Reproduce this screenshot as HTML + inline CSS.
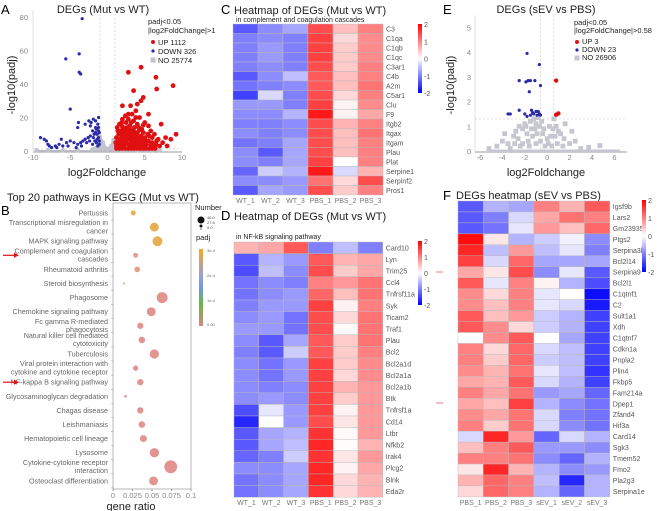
<!DOCTYPE html>
<html><head><meta charset="utf-8"><style>
body{margin:0;background:#fff;}
svg{display:block;font-family:"Liberation Sans",sans-serif;}
</style></head><body>
<svg id="fig" width="669" height="511" viewBox="0 0 669 511" xmlns="http://www.w3.org/2000/svg"></svg>
<script>
// ---------- DATA ----------
const aBlue=[[-3.4,79],[-3.8,58],[-5.6,55],[-3.8,47],[-3.6,46],[-5.0,25],[-3.9,17],[-4.0,14],[-3.0,16],[-2.5,18],[-2.2,17],[-1.9,19],[-1.6,18],[-1.3,16],[-1.2,14],[-1.5,13],[-2.0,12],[-1.8,10],[-1.4,10],[-1.2,8],[-2.3,9],[-2.6,8],[-3.0,7],[-3.3,6],[-3.6,5],[-4.0,4],[-4.5,5],[-5.0,6],[-5.5,5],[-6.0,3],[-6.5,4],[-7.0,3],[-7.5,2],[-8.0,4],[-8.5,7],[-9.0,8],[-8.2,6],[-7.8,3],[-6.8,2],[-1.1,4],[-1.5,5],[-2.0,4],[-2.8,5],[-1.7,6],[-1.3,3],[-4.2,2],[-5.3,3],[-6.2,7],[-3.5,3],[-2.4,6],[-1.1,11],[-1.6,14],[-2.3,15],[-1.2,20],[-1.1,6],[-1.4,7],[-1.2,12],[-1.9,8],[-1.6,11]];
const aRed=[[4.5,50],[2.8,47],[6.5,44],[8.8,39],[6.6,37],[3.5,36],[4.8,32],[4.5,30],[3.1,27],[2.0,27],[4.0,28],[3.8,24],[2.8,22],[5.5,22],[4.3,20],[7.2,16],[9.2,10],[8.5,7],[7.8,8],[6.8,7],[6.3,10],[5.8,12],[5.5,15],[5.0,17],[4.6,13],[4.0,16],[3.5,18],[3.0,15],[2.5,17],[2.2,13],[1.8,12],[1.5,10],[1.2,8],[1.1,5],[1.5,4],[2.0,6],[2.5,9],[3.0,10],[3.5,12],[4.0,11],[4.5,9],[5.0,8],[5.5,6],[6.0,5],[6.5,4],[7.0,3],[3.2,6],[2.8,4],[2.2,3],[1.7,2],[3.8,5],[4.3,4],[4.8,3],[5.2,4],[3.0,13],[2.0,19],[1.3,14],[6.0,2],[4.0,7],[5.6,9],[2.6,11],[3.3,8],[4.2,14],[1.6,16],[2.4,21],[3.6,3],[1.2,3],[2.2,8],[2.9,7],[3.7,9],[4.4,6],[1.4,6],[1.9,9],[2.6,14],
[1.2,1.5],[1.6,1.5],[2.0,1.5],[2.4,1.5],[2.8,1.5],[3.2,1.5],[3.6,1.5],[4.0,1.5],[4.4,1.5],[4.8,1.5],[5.2,1.5],[5.6,1.5],[6.0,1.5],[6.4,1.5],
[1.3,4],[1.8,4],[2.4,4.5],[3.0,3],[3.4,4.5],[4.0,3],[4.6,4.5],[5.0,5.5],[5.8,3.5],[6.3,2.5],
[1.6,7],[2.1,7.5],[2.6,6.5],[3.1,8.5],[3.6,7],[4.1,8.5],[4.6,7.5],[5.1,6.5],[5.4,10],[4.8,11],
[1.7,10.5],[2.2,11],[2.8,11.5],[3.3,10.5],[3.8,10],[4.3,12.5],[2.5,12.5],[3.6,14],[2.0,14.5],[3.2,17],[2.8,19],[3.8,20],[4.8,15.5],[6.0,8],[6.6,6],[7.4,5],[8.0,3],[1.4,12],[1.9,17],[3.3,22]];
const aGrey=[[-1.2,9],[-1,7],[-0.8,5],[-0.5,3],[-0.2,1.5],[0,0.8],[0.2,1.5],[0.5,3],[0.8,5],[1,6],[-1,3],[-0.6,1.5],[0.6,1.5],[1,2.5],[-1.5,2],[1.5,1.5],[-2,1],[2,1],[-4,0.5],[-6,0.5],[-8,0.5],[-9.5,0.5],[4,0.5],[6,0.5],[7,0.5],[-1.1,5],[1.1,4],[-0.9,2],[-0.7,4],[0.7,4],[-1.3,6],[0.9,3],[-1.0,8.5],[-0.9,6.5],[-0.6,5],[0.4,2],[0.8,6.5],[0.9,1.5],[-1.1,1.5],[-1.3,3.5],[-0.4,1.8],[1.0,5]];
const aXTicks=[-10,-5,0,5,10];
const aYTicks=[0,20,40,60,80];

const eBlue=[[-1.8,3.95],[-0.7,3.5],[-2.5,2.85],[-1.9,2.8],[-1.7,2.85],[-1.5,2.85],[-1.1,2.85],[-0.6,2.65],[-1.6,2.4],[-2.5,1.65],[-3.3,1.5],[-3.5,1.5],[-1.4,1.65],[-1.0,1.6],[-0.8,1.6],[-1.5,1.45],[-1.8,1.4],[-1.3,1.55],[-0.9,1.45],[-0.7,1.5],[-1.2,1.5],[-0.6,1.45],[-2.0,1.5]];
const eRed=[[0.8,2.85],[0.8,1.47],[1.0,1.52]];
const eGrey=[[-5.2,0.1],[-4,0.4],[-3.5,0.3],[-3,0.6],[-2.8,0.8],[-2.5,1.0],[-2.2,0.9],[-2,1.1],[-1.8,0.7],[-1.5,1.2],[-1.2,1.3],[-1,1.1],[-0.8,1.35],[-0.5,1.2],[-0.3,0.9],[0,0.5],[0.3,0.6],[0.5,0.9],[0.6,1.3],[0.8,1.0],[1,0.8],[1.2,0.7],[1.5,0.5],[2,0.3],[2.5,0.4],[3.7,0.15],[4.7,0.22],[3,0.1],[-4.5,0.2],[-3.8,0.7],[-2.6,0.5],[-1.7,0.4],[-1.4,0.9],[-0.9,0.7],[-0.6,0.4],[0.4,0.2],[0.9,0.3],[1.4,0.2],[-2.2,0.3],[-0.2,0.2],[2.2,0.8],[1.6,1.1],[-1.1,0.9],[-0.4,0.7],[0.2,1.0],[-2.9,0.3],[-1.9,1.0],[-1.3,0.6],[-0.7,1.0],[-1.6,0.2],[-1.0,0.3],[0.1,0.3],[0.7,0.6],[-2.4,0.2],[-3.3,0.1]];
const eXTicks=[-6,-4,-2,0,2,4,6];
const eYTicks=[0,1,2,3,4,5];

const bPathways=["Pertussis","Transcriptional misregulation in|cancer","MAPK signaling pathway","Complement and coagulation|cascades","Rheumatoid arthritis","Steroid biosynthesis","Phagosome","Chemokine signaling pathway","Fc gamma R-mediated|phagocytosis","Natural killer cell mediated|cytotoxicity","Tuberculosis","Viral protein interaction with|cytokine and cytokine receptor","NF-kappa B signaling pathway","Glycosaminoglycan degradation","Chagas disease","Leishmaniasis","Hematopoietic cell lineage","Lysosome","Cytokine-cytokine receptor|interaction","Osteoclast differentiation"];
const bRatio=[0.026,0.053,0.057,0.029,0.031,0.014,0.063,0.049,0.035,0.037,0.053,0.029,0.035,0.016,0.035,0.037,0.039,0.053,0.074,0.052];
const bCount=[12,24,27,12,14,3,30,24,16,17,25,13,16,5,16,17,18,25,36,24];
const bPadj=[3e-4,2.7e-4,2.7e-4,0.1e-4,0.1e-4,0.1e-4,0,0,0,0,0,0,0,0,0,0,0,0,0,0];
const bXTicks=[0,0.025,0.05,0.075,0.1];
const bXTickLabels=["0","0.025","0.05","0.075","0.1"];

const hmCols=["WT_1","WT_2","WT_3","PBS_1","PBS_2","PBS_3"];
const cGenes=["C3","C1qa","C1qb","C1qc","C3ar1","C4b","A2m","C5ar1","Clu","F9","Itgb2","Itgax","Itgam","Plau","Plat","Serpine1","Serpinf2","Pros1"];
const cVals=[[-1.3,-0.9,-0.7,1.4,0.5,1.0],[-1.0,-0.9,-1.0,1.5,0.3,0.9],[-1.0,-0.8,-1.0,1.5,0.4,0.9],[-1.0,-0.8,-1.0,1.5,0.4,0.9],[-1.0,-0.9,-1.0,1.4,0.4,1.0],[-1.3,-0.9,-0.5,1.3,0.5,1.0],[-1.1,-1.0,-0.9,1.3,0.5,1.1],[-1.5,-0.3,-1.0,1.4,0.3,1.0],[-0.8,-0.8,-1.0,1.5,0.1,0.9],[-0.9,-0.9,-0.6,1.8,0.1,0.7],[-1.0,-1.0,-0.9,1.4,0.6,1.0],[-0.9,-1.0,-0.9,1.4,0.5,1.1],[-1.1,-1.0,-0.7,1.4,0.5,1.0],[-0.9,-1.3,-0.7,1.4,0.5,1.0],[-0.9,-1.0,-0.7,1.5,0.0,1.0],[-1.2,-0.4,-0.6,1.8,-0.3,0.6],[-0.9,-0.9,-0.8,1.1,0.3,1.4],[-1.3,-0.7,-0.8,1.4,0.4,1.0]];
const dGenes=["Card10","Lyn","Trim25","Ccl4","Tnfrsf11a","Syk","Ticam2","Traf1","Plau","Bcl2","Bcl2a1d","Bcl2a1a","Bcl2a1b","Btk","Tnfrsf1a","Cd14","Ltbr","Nfkb2","Irak4","Plcg2","Blnk","Eda2r"];
const dVals=[[0.6,0.7,1.3,-1.0,-0.5,-1.0],[-1.3,-0.6,-0.8,1.3,0.6,0.7],[-1.4,-0.5,-0.9,1.4,0.4,0.7],[-1.1,-0.9,-1.0,1.0,0.8,1.1],[-1.1,-0.9,-0.8,1.2,0.5,1.1],[-1.0,-0.8,-0.8,1.5,0.1,1.0],[-0.9,-0.8,-1.1,1.4,0.3,1.1],[-0.8,-0.8,-1.1,1.4,0.05,1.1],[-0.9,-1.3,-0.7,1.3,0.4,1.1],[-1.0,-1.3,-0.4,1.3,0.4,1.0],[-0.9,-1.1,-0.8,1.5,0.4,0.9],[-0.9,-1.1,-0.8,1.5,0.3,0.9],[-0.9,-1.0,-0.9,1.5,0.6,0.8],[-0.9,-0.8,-0.9,1.5,0.4,0.8],[-1.4,-0.2,-0.8,1.5,0.1,0.8],[-1.7,0.0,-0.8,1.4,0.2,0.8],[-1.3,-0.7,-0.6,1.6,0.05,0.8],[-1.3,-0.7,-0.5,1.7,0.02,0.6],[-1.2,-1.0,-0.4,1.6,0.2,0.8],[-0.9,-0.9,-0.7,1.7,0.1,0.7],[-1.1,-0.9,-0.7,1.7,0.3,0.6],[-1.1,-0.9,-0.7,1.6,0.3,0.6]];
const fCols=["PBS_1","PBS_2","PBS_3","sEV_1","sEV_2","sEV_3"];
const fGenes=["Igsf9b","Lars2","Gm23935","Ptgs2","Serpina3h","Bcl2l14","Serpina9","Bcl2l1","C1qtnf1","C2","Sult1a1","Xdh","C1qtnf7","Cdkn1a","Pnpla2","Plin4","Fkbp5","Fam214a","Dpep1","Zfand4","Hif3a","Card14","Sgk3","Tmem52","Fmo2","Pla2g3","Serpina1e"];
const fVals=[[-1.3,-0.6,-0.7,1.0,0.6,1.3],[-1.3,-1.0,-0.3,0.7,1.1,1.0],[-1.3,-1.1,-0.2,0.8,0.5,1.2],[1.9,0.2,-0.6,-0.4,-0.1,-0.9],[1.7,-0.5,0.8,-0.5,-0.2,-1.0],[1.5,-0.3,1.2,-0.7,-0.7,-0.7],[0.7,0.2,1.4,-0.9,-0.2,-1.3],[1.3,-0.2,1.0,0.1,-0.6,-1.4],[0.9,0.3,1.0,-0.2,0.0,-1.9],[0.9,0.5,1.0,-0.2,-0.3,-1.8],[1.3,0.5,0.8,-0.4,-0.6,-1.5],[1.3,0.9,0.3,-0.4,-0.6,-1.5],[0.0,0.9,1.3,0.0,-0.7,-1.5],[1.0,0.3,1.2,-0.3,-0.5,-1.5],[1.0,0.4,1.2,-0.4,-0.5,-1.5],[0.9,0.6,1.1,-0.2,-0.5,-1.6],[0.7,0.6,1.3,-0.3,-0.6,-1.5],[1.0,0.7,1.1,-0.8,-0.7,-1.2],[0.7,0.5,1.5,-0.6,-0.9,-1.1],[0.9,0.7,1.1,-0.3,-1.0,-1.1],[1.0,0.4,1.1,-0.3,-0.9,-1.1],[-0.3,1.7,0.8,-1.2,-0.3,-0.6],[0.5,1.0,1.3,-0.8,-0.8,-0.9],[1.0,1.0,1.1,-0.9,-1.2,-0.6],[0.2,1.7,0.6,-0.6,-0.9,-0.8],[0.6,1.2,1.0,-0.5,-1.7,-0.6],[0.3,1.2,1.0,-0.6,-1.2,-0.6]];
const cbTicks=[2,1,0,-1,-2];

// ---------- HELPERS ----------
const NS="http://www.w3.org/2000/svg";
const svg=document.getElementById('fig');
function mk(tag,attrs,parent){const e=document.createElementNS(NS,tag);for(const k in attrs)e.setAttribute(k,attrs[k]);(parent||svg).appendChild(e);return e;}
function txt(s,x,y,size,fill,anchor,name,extra){const e=mk('text',Object.assign({x:x,y:y,'font-size':size,fill:fill,'text-anchor':anchor||'start'},extra||{}));e.textContent=s;


return e;}
function hmColor(v){v=Math.max(-2,Math.min(2,v));if(v>=0){const t=v/2;const g=Math.round(255*(1-t));return `rgb(255,${g},${g})`;}const t=-v/2;const g=Math.round(255*(1-t));return `rgb(${g},${g},255)`;}
function dot(x,y,r,fill,name){const c=mk('circle',{cx:x,cy:y,r:r,fill:fill});


return c;}

// ---------- PANEL A ----------
const xA=v=>33+(v+10)/20*149, yA=v=>151-v/80*134;
txt("A",1,14,13,"#000","start","panel-a-label");
txt("DEGs (Mut vs WT)",103,13,11,"#222","middle","panel-a-title");
mk('line',{x1:xA(-10),y1:yA(0)+1,x2:xA(10),y2:yA(0)+1,stroke:"#999","stroke-width":1});
mk('rect',{x:xA(-9.5),y:yA(0)-1,width:xA(7)-xA(-9.5),height:2,fill:"#b8b8c4"});
mk('line',{x1:xA(-10),y1:yA(84),x2:xA(-10),y2:yA(0),stroke:"#ccc","stroke-width":0.6});
[-1,1].forEach(v=>mk('line',{x1:xA(v),y1:yA(84),x2:xA(v),y2:yA(0),stroke:"#ccc","stroke-width":0.7,"stroke-dasharray":"2,2"}));
mk('line',{x1:xA(-10),y1:yA(1.3),x2:xA(10),y2:yA(1.3),stroke:"#ccc","stroke-width":0.6,"stroke-dasharray":"2,2"});
aXTicks.forEach(v=>txt(String(v),xA(v),160,7.5,"#888","middle","a-x-tick"));
aYTicks.forEach(v=>txt(String(v),28,yA(v)+3,7.5,"#888","end","a-y-tick"));
txt("log2Foldchange",107,176,11,"#222","middle","a-x-axis-title");
txt("-log10(padj)",15,85,11,"#222","middle","a-y-axis-title",{transform:"rotate(-90 15 85)"});
aGrey.forEach(p=>dot(xA(p[0]),yA(p[1]),2.2,"#c2c2cc","a-point-ns"));
aBlue.forEach(p=>dot(xA(p[0]),yA(p[1]),1.6,"#2a2aa8","a-point-down"));
aRed.forEach(p=>dot(xA(p[0]),yA(p[1]),2.4,"#e01010","a-point-up"));
txt("padj<0.05",148,24,7.5,"#222","start","a-legend-title");
txt("|log2FoldChange|>1",148,33,7.5,"#222","start","a-legend-subtitle");
dot(153,42,2,"#e01010","a-legend-up-marker");txt("UP 1112",158,45,7.5,"#222","start","a-legend-up");
dot(153,51,1.6,"#2a2aa8","a-legend-down-marker");txt("DOWN 326",158,54,7.5,"#222","start","a-legend-down");
mk('rect',{x:150.5,y:57.5,width:5,height:5,fill:"#c2c2cc"});txt("NO 25774",158,63,7.5,"#222","start","a-legend-no");

// ---------- PANEL B ----------
const xB=v=>113+v*780, yB=i=>213+i*14.1;
txt("Top 20 pathways in KEGG (Mut vs WT)",103,201,11,"#222","middle","panel-b-title");
txt("B",1,215,13,"#000","start","panel-b-label");
mk('rect',{x:113,y:203,width:78,height:286,fill:"none",stroke:"#999","stroke-width":0.7});
bXTicks.forEach((v,i)=>{mk('line',{x1:xB(v),y1:489,x2:xB(v),y2:491,stroke:"#999"});txt(bXTickLabels[i],xB(v),498,7.5,"#888","middle","b-x-tick");});
txt("gene ratio",131,510,11,"#222","middle","b-x-axis-title");
bPathways.forEach((p,i)=>{const parts=p.split("|");const y=yB(i);
 mk('line',{x1:111,y1:y+7,x2:113,y2:y+7,stroke:"#999","stroke-width":0.5});
 if(parts.length==1)txt(parts[0],108,y+2.5,7.2,"#666","end","b-pathway-label");
 else{txt(parts[0],108,y-2,7.2,"#666","end","b-pathway-label");txt(parts[1],108,y+6.2,7.2,"#666","end","b-pathway-label");}
 const pa=bPadj[i];const col=pa>2.5e-4?"#e8b052":(pa>0?"#e2a08a":"#e29590");
 dot(xB(bRatio[i]),y,0.5+bCount[i]*0.165,col,"b-bubble");
});
[3,12].forEach(i=>{const y=yB(i);const l=mk('line',{x1:3,y1:y,x2:16,y2:y,stroke:"#e01010","stroke-width":1.2});


mk('polygon',{points:`${19},${y} ${14},${y-2.5} ${14},${y+2.5}`,fill:"#e01010"});});
txt("Number",195,210,7.5,"#222","start","b-size-legend-title");
dot(201,220,3.5,"#111","b-size-legend-dot");dot(201,226,1.5,"#111","b-size-legend-dot");dot(201,229,0.6,"#111","b-size-legend-dot");
txt("46.0",207,219,4,"#444","start","b-size-legend-label");txt("27.5",207,224,4,"#444","start","b-size-legend-label");txt("9.0",207,229,4,"#444","start","b-size-legend-label");
txt("padj",196,240,7.5,"#222","start","b-color-legend-title");
const grad=mk('linearGradient',{id:"gB",x1:0,y1:0,x2:0,y2:1},mk('defs',{}));
[["0","#f5a623"],["0.35","#9b9fd6"],["0.5","#6f9ae6"],["0.7","#66b84a"],["1","#d9837f"]].forEach(s=>mk('stop',{offset:s[0],'stop-color':s[1]},grad));
mk('rect',{x:199,y:249,width:4,height:77,fill:"url(#gB)"});
txt("3e-4",207,252,4,"#666","start","b-color-tick");txt("2e-4",207,277,4,"#666","start","b-color-tick");txt("1e-4",207,302,4,"#666","start","b-color-tick");txt("0.00",207,326,4,"#666","start","b-color-tick");

// ---------- HEATMAP ----------
function heatmap(prefix,x0,y0,cw,rh,cols,genes,vals,labSize){
 vals.forEach((row,r)=>row.forEach((v,c)=>{const e=mk('rect',{x:x0+c*cw,y:y0+r*rh,width:cw,height:rh,fill:hmColor(v),stroke:"#b8b8b8","stroke-width":0.4});
 
 }));
 genes.forEach((g,r)=>txt(g,x0+6*cw+3,y0+r*rh+rh/2+2.5,labSize,"#555","start",prefix+"-row-label"));
 cols.forEach((c,i)=>txt(c,x0+i*cw+cw/2,y0+genes.length*rh+8,7,"#777","middle",prefix+"-col-label"));
}
function colorbar(prefix,x,y,h){const g=mk('linearGradient',{id:"g"+prefix,x1:0,y1:0,x2:0,y2:1},mk('defs',{}));
 [["0","#ff0000"],["0.5","#ffffff"],["1","#0000ff"]].forEach(s=>mk('stop',{offset:s[0],'stop-color':s[1]},g));
 mk('rect',{x:x,y:y,width:4,height:h,fill:"url(#g"+prefix+")"});
 cbTicks.forEach((t,i)=>txt(String(t),x+6,y+i*h/4+3,7,"#555","start",prefix+"-colorbar-tick"));}

txt("C",221,14,13,"#000","start","panel-c-label");
txt("Heatmap of DEGs (Mut vs WT)",234,14,11,"#222","start","panel-c-title");
txt("in complement and coagulation cascades",236,22,7,"#222","start","panel-c-subtitle");
heatmap("c",233,24,25,9.5,hmCols,cGenes,cVals,7);
colorbar("c",418,24,69);

txt("D",221,220,13,"#000","start","panel-d-label");
txt("Heatmap of DEGs (Mut vs WT)",234,220,11,"#222","start","panel-d-title");
txt("in NF-kB signaling pathway",236,239,7,"#222","start","panel-d-subtitle");
heatmap("d",234,242,24.8,11.6,hmCols,dGenes,dVals,7);
colorbar("d",418,241,64);

// ---------- PANEL E ----------
const xE=v=>480+(v+6)*11.2, yE=v=>151-v*24.7;
txt("E",443,14,13,"#000","start","panel-e-label");
txt("DEGs (sEV vs PBS)",546,13,11,"#222","middle","panel-e-title");
mk('line',{x1:475,y1:yE(0)+1,x2:627,y2:yE(0)+1,stroke:"#999","stroke-width":1});
mk('rect',{x:xE(-5.3),y:yE(0)-1.5,width:xE(6.5)-xE(-5.3),height:2.5,fill:"#c6c6d0"});
mk('line',{x1:475,y1:yE(5.5),x2:475,y2:yE(0),stroke:"#ccc","stroke-width":0.6});
[-0.58,0.58].forEach(v=>mk('line',{x1:xE(v),y1:yE(5.5),x2:xE(v),y2:yE(0),stroke:"#ccc","stroke-width":0.7,"stroke-dasharray":"2,2"}));
mk('line',{x1:475,y1:yE(1.3),x2:627,y2:yE(1.3),stroke:"#ccc","stroke-width":0.6,"stroke-dasharray":"2,2"});
eXTicks.forEach(v=>txt(String(v),xE(v),160,7.5,"#888","middle","e-x-tick"));
eYTicks.forEach(v=>txt(String(v),471,yE(v)+3,7.5,"#888","end","e-y-tick"));
txt("log2Foldchange",546,176,11,"#222","middle","e-x-axis-title");
txt("-log10(padj)",454,85,11,"#222","middle","e-y-axis-title",{transform:"rotate(-90 454 85)"});
eGrey.forEach(p=>{const r=mk('rect',{x:xE(p[0])-2.4,y:yE(p[1])-2.4,width:4.8,height:4.8,fill:"#c6c6d0"});

});
eBlue.forEach(p=>dot(xE(p[0]),yE(p[1]),1.6,"#2a2aa8","e-point-down"));
eRed.forEach(p=>dot(xE(p[0]),yE(p[1]),2.2,"#e01010","e-point-up"));
txt("padj<0.05",574,25,7.5,"#222","start","e-legend-title");
txt("|log2FoldChange|>0.58",574,33,7.5,"#222","start","e-legend-subtitle");
dot(577,42,2,"#e01010","e-legend-up-marker");txt("UP 3",582,44,7.5,"#222","start","e-legend-up");
dot(577,50,1.6,"#2a2aa8","e-legend-down-marker");txt("DOWN 23",582,52,7.5,"#222","start","e-legend-down");
mk('rect',{x:574.5,y:55.5,width:5,height:5,fill:"#c6c6d0"});txt("NO 26906",582,60,7.5,"#222","start","e-legend-no");

// ---------- PANEL F ----------
txt("F",443,200,13,"#000","start","panel-f-label");
txt("DEGs heatmap (sEV vs PBS)",456,199,11,"#222","start","panel-f-title");
heatmap("f",458,201,25.3,10.96,fCols,fGenes,fVals,7);
colorbar("f",642,200,72);
[272,403].forEach(y=>{const l=mk('line',{x1:436,y1:y,x2:443,y2:y,stroke:"#e06060","stroke-width":0.8});

});
</script>
</body></html>
